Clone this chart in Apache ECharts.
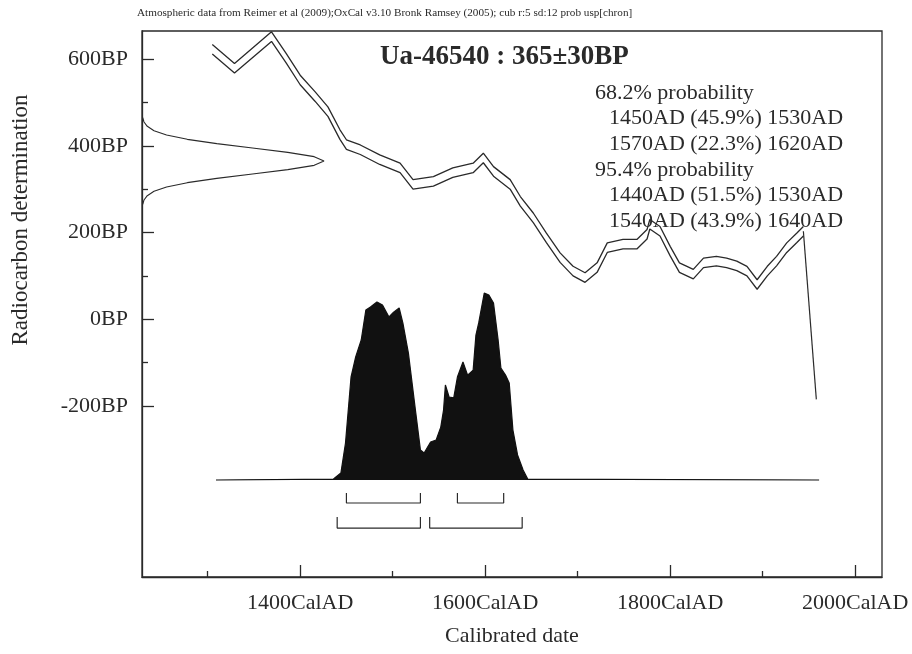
<!DOCTYPE html>
<html>
<head>
<meta charset="utf-8">
<title>Ua-46540</title>
<script src="https://cdn.jsdelivr.net/npm/echarts@6/dist/echarts.min.js"></script>
<style>
html, body { margin: 0; padding: 0; background: #fff; }
#chart { width: 912px; height: 654px; }
</style>
</head>
<body>
<div id="chart"></div>
<script>
// calibration curve (IntCal09), mid line and 1 sigma
var calYears = [1305, 1329, 1369, 1385, 1400, 1416, 1430, 1443, 1450, 1465, 1486, 1508, 1522, 1544, 1565, 1587, 1598,
	1609, 1627, 1638, 1652, 1666, 1681, 1695, 1708, 1721, 1732, 1749, 1764, 1775, 1778, 1789, 1800, 1810, 1825, 1836,
	1850, 1861, 1872, 1883, 1894, 1905, 1915, 1926, 1937, 1944];
var calBP = [623, 579, 652, 602, 552, 514, 479, 426, 403, 391, 368, 349, 311, 318, 338, 349, 372,
	341, 311, 272, 234, 188, 142, 111, 96, 119, 165, 173, 173, 196, 219, 203, 157, 119, 104, 130,
	134, 130, 123, 111, 80, 111, 134, 165, 188, 203];
var calSigma = 11;
var tailYears = [1944, 1958];
var tailBP = [203, -185];

// radiocarbon measurement 365 +/- 30 BP (relative density)
var measBP = [265, 275, 285, 295, 305, 315, 325, 335, 345, 355, 365, 375, 385, 395, 405, 415, 425, 435, 445, 455, 465];
var measDens = [0.004, 0.011, 0.029, 0.066, 0.135, 0.249, 0.411, 0.607, 0.801, 0.946, 1, 0.946, 0.801, 0.607, 0.411, 0.249, 0.135, 0.066, 0.029, 0.011, 0.004];

// calibrated probability (relative)
var probYears = [1309, 1436, 1444, 1449, 1455, 1460, 1466, 1471, 1476, 1483, 1489, 1496, 1501, 1507, 1511, 1517, 1525,
	1530, 1534, 1541, 1547, 1552, 1555, 1557, 1561, 1566, 1570, 1576, 1581, 1587, 1590, 1593, 1599, 1604, 1609,
	1614, 1617, 1622, 1626, 1630, 1635, 1641, 1646, 1961];
var probVals = [0, 0.005, 0.037, 0.198, 0.551, 0.658, 0.749, 0.909, 0.925, 0.952, 0.936, 0.872, 0.898, 0.920, 0.840, 0.679, 0.358,
	0.160, 0.144, 0.203, 0.214, 0.283, 0.374, 0.508, 0.444, 0.439, 0.551, 0.631, 0.561, 0.588, 0.775, 0.840, 1, 0.989, 0.947,
	0.749, 0.599, 0.561, 0.519, 0.267, 0.134, 0.053, 0.005, 0];

var range68 = [[1450, 1530], [1570, 1620]];
var range95 = [[1440, 1530], [1540, 1640]];

var xMajor = [1400, 1600, 1800, 2000];
var xMinor = [1300, 1500, 1700, 1900];
var yMajor = [-200, 0, 200, 400, 600];
var yMinor = [-100, 100, 300, 500];

var header = 'Atmospheric data from Reimer et al (2009);OxCal v3.10 Bronk Ramsey (2005); cub r:5 sd:12 prob usp[chron]';
var title = 'Ua-46540 : 365\u00b130BP';
var probText = [
	['68.2% probability', 0],
	['1450AD (45.9%) 1530AD', 1],
	['1570AD (22.3%) 1620AD', 1],
	['95.4% probability', 0],
	['1440AD (51.5%) 1530AD', 1],
	['1540AD (43.9%) 1640AD', 1]
];

var SERIF = '"Liberation Serif", "Times New Roman", serif';
var INK = '#2a2a2a';

function pairs(xs, ys) {
	var out = [];
	for (var i = 0; i < xs.length; i++) out.push([xs[i], ys[i]]);
	return out;
}
function shifted(xs, ys, d) {
	var out = [];
	for (var i = 0; i < xs.length; i++) out.push([xs[i], ys[i] + d]);
	return out;
}
function bracket(r, lvl, top) {
	return {
		type: 'line', xAxisIndex: 0, yAxisIndex: 2, symbol: 'none', silent: true,
		lineStyle: { color: INK, width: 1.2 },
		data: [[r[0], top], [r[0], lvl], [r[1], lvl], [r[1], top]]
	};
}

var chart = echarts.init(document.getElementById('chart'));

var series = [
	{ type: 'line', xAxisIndex: 0, yAxisIndex: 0, symbol: 'none', lineStyle: { color: INK, width: 1.3 },
		data: shifted(calYears, calBP, calSigma) },
	{ type: 'line', xAxisIndex: 0, yAxisIndex: 0, symbol: 'none', lineStyle: { color: INK, width: 1.3 },
		data: shifted(calYears, calBP, -calSigma) },
	{ type: 'line', xAxisIndex: 0, yAxisIndex: 0, symbol: 'none', lineStyle: { color: INK, width: 1.2 },
		data: pairs(tailYears, tailBP) },
	{ type: 'line', xAxisIndex: 2, yAxisIndex: 0, symbol: 'none', lineStyle: { color: INK, width: 1.1 },
		data: pairs(measDens, measBP) },
	{ type: 'line', xAxisIndex: 0, yAxisIndex: 2, symbol: 'none', lineStyle: { color: '#111', width: 1.2 },
		areaStyle: { color: '#111', opacity: 1 },
		data: pairs(probYears, probVals) }
];
range68.forEach(function(r) { series.push(bracket(r, -0.123, -0.070)); });
range95.forEach(function(r) { series.push(bracket(r, -0.257, -0.198)); });

var graphics = [
	{ type: 'text', left: 137, top: 8, style: { text: header, font: '11.2px ' + SERIF, fill: INK } },
	{ type: 'text', x: 380, y: 57, style: { text: title, font: 'bold 27px ' + SERIF, fill: INK, textVerticalAlign: 'middle' } },
	{ type: 'text', x: 21, y: 220, rotation: Math.PI / 2,
		style: { text: 'Radiocarbon determination', font: '23px ' + SERIF, fill: INK, textAlign: 'center', textVerticalAlign: 'middle' } },
	{ type: 'text', x: 512, y: 636,
		style: { text: 'Calibrated date', font: '22px ' + SERIF, fill: INK, textAlign: 'center', textVerticalAlign: 'middle' } }
];
probText.forEach(function(p, i) {
	graphics.push({ type: 'text', x: p[1] ? 609 : 595, y: 93 + i * 25.6,
		style: { text: p[0], font: '22px ' + SERIF, fill: INK, textVerticalAlign: 'middle' } });
});

var option = {
	animation: false,
	backgroundColor: '#fff',
	grid: { left: 142, right: 30, top: 31, bottom: 77, show: true, borderColor: INK, borderWidth: 1.3, backgroundColor: 'transparent' },
	xAxis: [
		{ type: 'value', position: 'bottom', min: 1229, max: 2029,
			axisLine: { show: true, onZero: false, lineStyle: { color: INK, width: 1.3 } },
			axisTick: { show: true, inside: true, length: 12, customValues: xMajor, lineStyle: { color: INK, width: 1.3 } },
			axisLabel: { show: true, customValues: xMajor, margin: 15, color: INK, fontFamily: SERIF, fontSize: 22,
				formatter: function(v) { return v + 'CalAD'; } },
			splitLine: { show: false } },
		{ type: 'value', position: 'bottom', min: 1229, max: 2029, axisLine: { show: false, onZero: false },
			axisTick: { show: true, inside: true, length: 6, customValues: xMinor, lineStyle: { color: INK, width: 1.3 } },
			axisLabel: { show: false }, splitLine: { show: false } },
		{ type: 'value', position: 'top', min: 0, max: 4.066, show: false, axisLine: { onZero: false } }
	],
	yAxis: [
		{ type: 'value', position: 'left', min: -595, max: 665,
			axisLine: { show: true, onZero: false, lineStyle: { color: INK, width: 1.3 } },
			axisTick: { show: true, inside: true, length: 12, customValues: yMajor, lineStyle: { color: INK, width: 1.3 } },
			axisLabel: { show: true, customValues: yMajor, margin: 14, color: INK, fontFamily: SERIF, fontSize: 22,
				formatter: function(v) { return v + 'BP'; } },
			splitLine: { show: false } },
		{ type: 'value', position: 'left', min: -595, max: 665, axisLine: { show: false, onZero: false },
			axisTick: { show: true, inside: true, length: 6, customValues: yMinor, lineStyle: { color: INK, width: 1.3 } },
			axisLabel: { show: false }, splitLine: { show: false } },
		{ type: 'value', position: 'right', min: -0.519, max: 2.402, show: false, axisLine: { onZero: false } }
	],
	series: series,
	graphic: graphics
};
chart.setOption(option);
</script>
</body>
</html>
